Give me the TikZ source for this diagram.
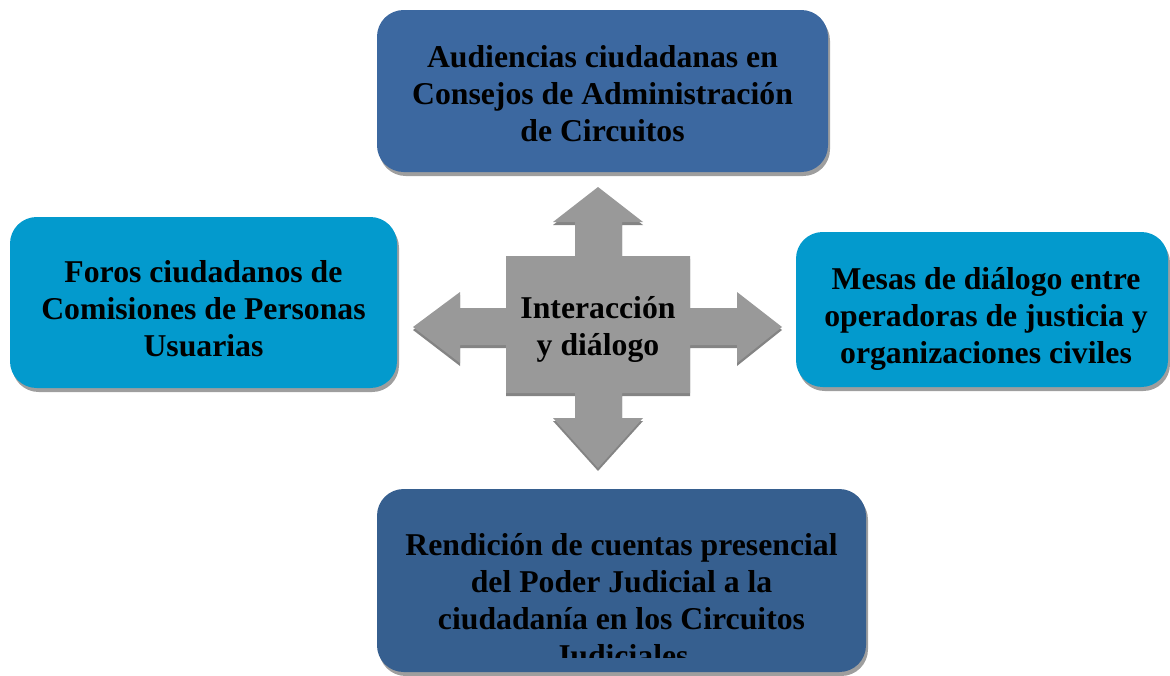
\documentclass[tikz,border=0pt]{standalone}
\usepackage{fontspec}
\setmainfont{Liberation Serif}
\usetikzlibrary{positioning}
\usetikzlibrary{shadows}

\definecolor{darkblue}{RGB}{60,104,160}
\definecolor{deepblue}{RGB}{54,95,143}
\definecolor{lightblue}{RGB}{3,154,205}
\definecolor{crossgray}{RGB}{153,153,153}
\definecolor{crossshade}{RGB}{132,132,132}

\begin{document}
\begin{tikzpicture}[x=0.75pt,y=-0.75pt,
    box/.style={rounded corners=20pt,inner sep=0pt,
        drop shadow={shadow xshift=1.5pt,shadow yshift=-3pt,fill=black!38,opacity=1}},
    boxtext/.style={align=center,inner sep=0pt,font=\fontsize{23.8}{27.75}\selectfont\bfseries}]

    % fix the page size
    \useasboundingbox (0,0) rectangle (1170,675);

    % the four boxes
    \node[box,fill=darkblue,minimum width=338.25pt,minimum height=121.5pt] (audiencias) at (602.5,91) {};
    \node[box,fill=lightblue,minimum width=290.25pt,minimum height=128.25pt] (foros) at (203.5,302.5) {};
    \node[box,fill=lightblue,minimum width=279pt,minimum height=116.25pt] (mesas) at (982,309.5) {};
    \node[box,fill=deepblue,minimum width=366.75pt,minimum height=137.25pt] (rendicion) at (621.5,580.5) {};

    % their texts
    \node[boxtext] (audienciastext) at ([yshift=-2.25pt]audiencias.center)
        {Audiencias ciudadanas en\\Consejos de Administración\\de Circuitos};
    \node[boxtext] (forostext) at ([yshift=-4.5pt]foros.center)
        {Foros ciudadanos de\\Comisiones de Personas\\Usuarias};
    \node[boxtext] (mesastext) at ([xshift=3pt,yshift=-6.75pt]mesas.center)
        {Mesas de diálogo entre\\operadoras de justicia y\\organizaciones civiles};

    % text of the bottom box runs over and is cut
    \begin{scope}
        \clip (377,489) rectangle (866,657);
        \node[boxtext] (rendiciontext) at (621.5,600)
            {Rendición de cuentas presencial\\del Poder Judicial a la\\ciudadanía en los Circuitos\\Judiciales};
    \end{scope}

    % the cross of four arrows, shadow first
    \foreach \c/\s in {crossshade/3,crossgray/0}
        \fill[\c,yshift=-\s*0.75pt] (598,187) -- (643,222) -- (622,222) -- (622,256) -- (690,256) -- (690,308)
            -- (737,308) -- (737,292) -- (782,327) -- (737,363) -- (737,345) -- (690,345)
            -- (690,393) -- (622,393) -- (622,418) -- (643,418) -- (598,468) -- (553,418)
            -- (575,418) -- (575,393) -- (506,393) -- (506,345) -- (460,345) -- (460,363)
            -- (413,327) -- (460,292) -- (460,308) -- (506,308) -- (506,256) -- (575,256)
            -- (575,222) -- (553,222) -- cycle;

    \node[boxtext] (interaccion) at (598,329) {Interacción\\y diálogo};

\end{tikzpicture}
\end{document}
